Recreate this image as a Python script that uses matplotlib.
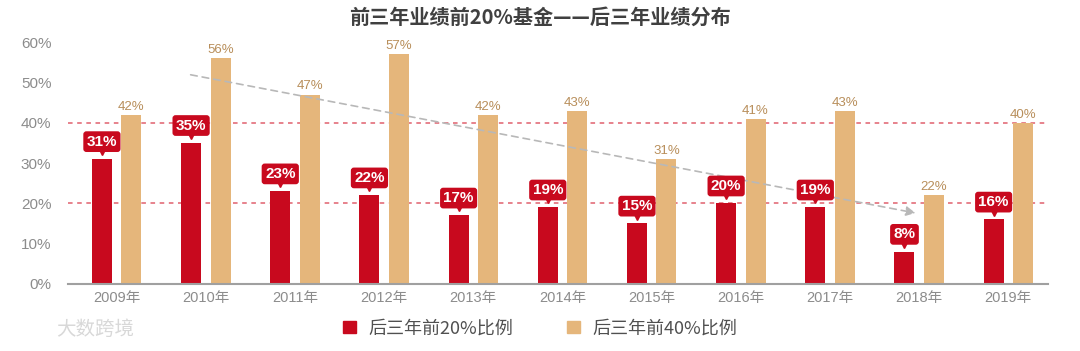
import numpy as np
import matplotlib
matplotlib.use("Agg")
from matplotlib import pyplot as plt
from matplotlib.patches import Patch
from matplotlib.transforms import ScaledTranslation

plt.rcParams['font.family'] = ['Liberation Sans', 'Noto Sans CJK SC']

years = ['2009年', '2010年', '2011年', '2012年', '2013年', '2014年',
         '2015年', '2016年', '2017年', '2018年', '2019年']
top20 = [31, 35, 23, 22, 17, 19, 15, 20, 19, 8, 16]
top40 = [42, 56, 47, 57, 42, 43, 31, 41, 43, 22, 40]
ref_lines = [40, 20]
trend_start = (0.83, 51.9)
trend_end = (8.96, 17.6)

red = '#C8091E'
gold = '#E5B67B'
gold_text = '#B88E5A'

fig = plt.figure(figsize=(10.8, 3.51), dpi=100)
ax = fig.add_axes([0.063, 0.191, 0.907, 0.689])

x = np.arange(len(years))
w = 0.224
off = 0.165
ax.bar(x - off, top20, width=w, color=red, zorder=2)
ax.bar(x + off, top40, width=w, color=gold, zorder=2)

for y in ref_lines:
    ax.axhline(y, color='#E0606E', linestyle=(0, (3, 3)), linewidth=1.1, zorder=1)

# trend arrow
ax.annotate('', xy=trend_end, xytext=trend_start,
            arrowprops=dict(arrowstyle='-|>', color='#B8B8B8', linestyle=(0, (4, 3)),
                            linewidth=1.2, mutation_scale=14, shrinkA=0, shrinkB=0),
            zorder=3)

# red value badges with a small pointer
pointer = ax.transData + ScaledTranslation(0, 5 / 72, fig.dpi_scale_trans)
for xi, v in zip(x, top20):
    ax.annotate(f'{v}%', xy=(xi - off, v), xytext=(0, 12.5), textcoords='offset points',
                ha='center', va='center', color='white', fontsize=11, fontweight='bold',
                bbox=dict(boxstyle='round,pad=0.22,rounding_size=0.2', fc=red, ec='none'),
                zorder=4)
    ax.plot([xi - off], [v], marker='v', markersize=5, color=red,
            transform=pointer, zorder=4, linestyle='none', clip_on=False)

for xi, v in zip(x, top40):
    ax.annotate(f'{v}%', xy=(xi + off, v), xytext=(0, 1.5), textcoords='offset points',
                ha='center', va='bottom', color=gold_text, fontsize=9.5, zorder=4)

ax.set_xlim(-0.545, len(years) - 0.56)
ax.set_ylim(0, 60)
ax.set_yticks(range(0, 61, 10))
ax.set_yticklabels([f'{t}%' for t in range(0, 61, 10)])
ax.set_xticks(x)
ax.set_xticklabels(years)
ax.tick_params(axis='both', length=0, colors='#8C8C8C', labelsize=11)
ax.tick_params(axis='x', labelsize=10.5)
ax.tick_params(axis='y', pad=12)
ax.tick_params(axis='x', pad=5)
for s in ['top', 'right', 'left']:
    ax.spines[s].set_visible(False)
ax.spines['bottom'].set_color('#A0A0A0')
ax.spines['bottom'].set_linewidth(1.5)

fig.text(0.5, 0.95, '前三年业绩前20%基金——后三年业绩分布', ha='center', va='center',
         fontsize=14.5, fontweight='bold', color='#404040',
         family=['Noto Sans CJK SC', 'DejaVu Sans'])

handles = [Patch(color=red), Patch(color=gold)]
fig.legend(handles, ['后三年前20%比例', '后三年前40%比例'], loc='center',
           bbox_to_anchor=(0.5, 0.065), ncol=2, frameon=False,
           prop={'family': ['Noto Sans CJK SC', 'DejaVu Sans'], 'size': 13},
           handlelength=0.7, handleheight=0.7, columnspacing=3, handletextpad=0.7,
           labelcolor='#505050')

fig.text(0.088, 0.06, '大数跨境', ha='center', va='center', fontsize=14,
         color='#D8D8D8', family=['Noto Sans CJK SC', 'DejaVu Sans'])

fig.savefig('out.png', dpi=100)
